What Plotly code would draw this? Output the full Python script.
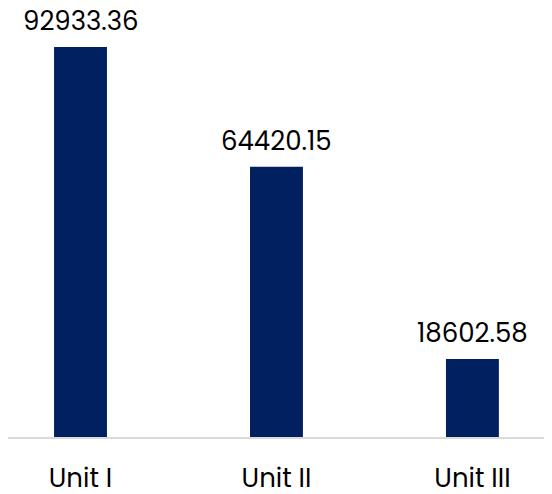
import plotly.graph_objects as go

categories = ["Unit I", "Unit II", "Unit III"]
values = [92933.36, 64420.15, 18602.58]
labels = ["92933.36", "64420.15", "18602.58"]

BAR_COLOR = "#002060"
FONT = "Poppins, Lato, Roboto, sans-serif"

fig = go.Figure()
fig.add_trace(go.Bar(
    x=categories,
    y=values,
    marker=dict(color=BAR_COLOR, line=dict(width=0)),
    width=0.27,
    hoverinfo="skip",
))

for c, v, t in zip(categories, values, labels):
    fig.add_annotation(
        x=c, y=v, text=t, showarrow=False,
        yanchor="bottom", yshift=6,
        font=dict(family=FONT, size=26, color="#000000"),
    )

fig.update_layout(
    width=544, height=486,
    margin=dict(l=0, r=0, t=0, b=57, autoexpand=False),
    paper_bgcolor="white",
    plot_bgcolor="white",
    showlegend=False,
    xaxis=dict(
        range=[-0.37, 2.406],
        automargin=False,
        showgrid=False,
        zeroline=False,
        showline=True,
        linecolor="#d9d9d9",
        linewidth=1.5,
        ticks="outside",
        ticklen=17,
        tickcolor="rgba(0,0,0,0)",
        tickfont=dict(family=FONT, size=26, color="#000000"),
    ),
    yaxis=dict(
        range=[0, 102226],
        visible=False,
        automargin=False,
        showgrid=False,
        zeroline=False,
    ),
)

fig.write_html("out.html")
